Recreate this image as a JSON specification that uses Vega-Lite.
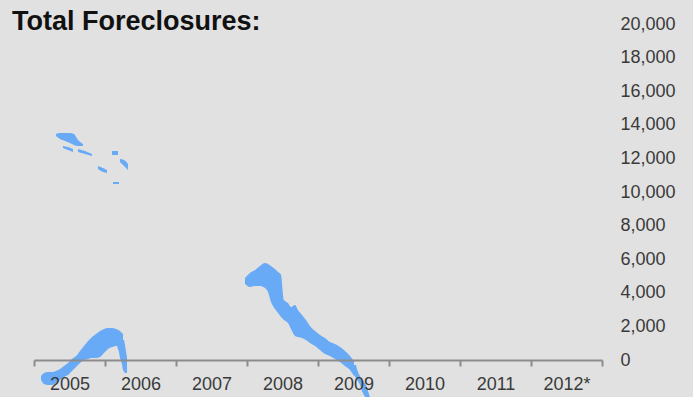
{
  "$schema": "https://vega.github.io/schema/vega-lite/v6.json",
  "width": 568,
  "height": 336,
  "autosize": "none",
  "padding": {"left": 34, "top": 24, "right": 91, "bottom": 37},
  "background": "#e1e1e1",
  "title": {
    "text": "Total Foreclosures:",
    "anchor": "start",
    "frame": "group",
    "orient": "top",
    "offset": 0,
    "dx": -22,
    "dy": 42,
    "baseline": "alphabetic",
    "font": "Liberation Sans",
    "fontSize": 27,
    "fontWeight": "bold",
    "color": "#111111"
  },
  "config": {
    "view": {"stroke": null},
    "axis": {"grid": false}
  },
  "resolve": {"scale": {"x": "independent"}},
  "layer": [
    {
      "data": {"values": [
        {"year": "2005"}, {"year": "2006"}, {"year": "2007"}, {"year": "2008"},
        {"year": "2009"}, {"year": "2010"}, {"year": "2011"}, {"year": "2012*"}
      ]},
      "mark": {"type": "point", "opacity": 0},
      "encoding": {
        "x": {
          "field": "year", "type": "ordinal", "sort": null,
          "scale": {"type": "band", "paddingInner": 0, "paddingOuter": 0},
          "axis": {
            "title": null, "tickBand": "extent", "labelAngle": 0,
            "domainColor": "#8c8c8c", "domainWidth": 2,
            "tickColor": "#8c8c8c", "tickWidth": 2, "tickSize": 6,
            "labelFont": "Liberation Sans", "labelFontSize": 18,
            "labelColor": "#3a3a3a", "labelPadding": 9, "zindex": 1
          }
        },
        "y": {
          "datum": 0, "type": "quantitative", "title": null,
          "scale": {"domain": [0, 20000], "nice": false},
          "axis": {
            "orient": "right", "title": null, "domain": false, "ticks": false,
            "values": [0, 2000, 4000, 6000, 8000, 10000, 12000, 14000, 16000, 18000, 20000],
            "format": ",.0f", "labelFont": "Liberation Sans", "labelFontSize": 18,
            "labelColor": "#3a3a3a", "labelPadding": 18, "zindex": 1
          }
        }
      }
    },
    {
      "data": {"values": [
        {"g": "A", "t": 0.099, "top": -952, "bot": -1190},
        {"g": "A", "t": 0.141, "top": -774, "bot": -1429},
        {"g": "A", "t": 0.197, "top": -714, "bot": -1488},
        {"g": "A", "t": 0.254, "top": -714, "bot": -1488},
        {"g": "A", "t": 0.310, "top": -655, "bot": -1369},
        {"g": "A", "t": 0.366, "top": -536, "bot": -1190},
        {"g": "A", "t": 0.423, "top": -357, "bot": -1012},
        {"g": "A", "t": 0.479, "top": -179, "bot": -893},
        {"g": "A", "t": 0.535, "top": 60, "bot": -655},
        {"g": "A", "t": 0.592, "top": 238, "bot": -417},
        {"g": "A", "t": 0.648, "top": 536, "bot": -179},
        {"g": "A", "t": 0.704, "top": 833, "bot": 0},
        {"g": "A", "t": 0.761, "top": 1131, "bot": 60},
        {"g": "A", "t": 0.817, "top": 1369, "bot": 119},
        {"g": "A", "t": 0.873, "top": 1548, "bot": 119},
        {"g": "A", "t": 0.930, "top": 1726, "bot": 179},
        {"g": "A", "t": 0.986, "top": 1845, "bot": 417},
        {"g": "A", "t": 1.042, "top": 1905, "bot": 655},
        {"g": "A", "t": 1.099, "top": 1905, "bot": 774},
        {"g": "A", "t": 1.155, "top": 1845, "bot": 833},
        {"g": "A", "t": 1.211, "top": 1726, "bot": 893},
        {"g": "A", "t": 1.254, "top": 1548, "bot": 952},
        {"g": "D", "t": 2.972, "top": 4881, "bot": 4524},
        {"g": "D", "t": 3.042, "top": 5179, "bot": 4345},
        {"g": "D", "t": 3.113, "top": 5357, "bot": 4405},
        {"g": "D", "t": 3.183, "top": 5595, "bot": 4405},
        {"g": "D", "t": 3.254, "top": 5774, "bot": 4286},
        {"g": "D", "t": 3.296, "top": 5714, "bot": 4048},
        {"g": "D", "t": 3.338, "top": 5595, "bot": 3452},
        {"g": "D", "t": 3.394, "top": 5417, "bot": 3036},
        {"g": "D", "t": 3.437, "top": 5238, "bot": 2798},
        {"g": "D", "t": 3.479, "top": 5060, "bot": 2560},
        {"g": "D", "t": 3.521, "top": 3571, "bot": 2381},
        {"g": "D", "t": 3.577, "top": 3393, "bot": 2202},
        {"g": "D", "t": 3.620, "top": 3155, "bot": 1845},
        {"g": "D", "t": 3.676, "top": 3274, "bot": 1429},
        {"g": "D", "t": 3.718, "top": 2976, "bot": 1369},
        {"g": "D", "t": 3.775, "top": 2679, "bot": 1310},
        {"g": "D", "t": 3.831, "top": 2381, "bot": 1190},
        {"g": "D", "t": 3.887, "top": 2024, "bot": 1012},
        {"g": "D", "t": 3.958, "top": 1726, "bot": 833},
        {"g": "D", "t": 4.028, "top": 1488, "bot": 595},
        {"g": "D", "t": 4.099, "top": 1310, "bot": 357},
        {"g": "D", "t": 4.169, "top": 1071, "bot": 238},
        {"g": "D", "t": 4.239, "top": 952, "bot": 60},
        {"g": "D", "t": 4.310, "top": 774, "bot": -119},
        {"g": "D", "t": 4.380, "top": 536, "bot": -357},
        {"g": "D", "t": 4.451, "top": 238, "bot": -595},
        {"g": "D", "t": 4.507, "top": -60, "bot": -952},
        {"g": "U1", "t": 0.310, "top": 13452, "bot": 13333},
        {"g": "U1", "t": 0.366, "top": 13512, "bot": 13155},
        {"g": "U1", "t": 0.437, "top": 13512, "bot": 13036},
        {"g": "U1", "t": 0.507, "top": 13512, "bot": 12917},
        {"g": "U1", "t": 0.563, "top": 13452, "bot": 12798},
        {"g": "U1", "t": 0.620, "top": 13095, "bot": 12738},
        {"g": "U1", "t": 0.690, "top": 12857, "bot": 12738},
        {"g": "U2", "t": 0.408, "top": 12738, "bot": 12619},
        {"g": "U2", "t": 0.479, "top": 12679, "bot": 12500},
        {"g": "U2", "t": 0.549, "top": 12560, "bot": 12381},
        {"g": "U3", "t": 0.620, "top": 12560, "bot": 12381},
        {"g": "U3", "t": 0.718, "top": 12440, "bot": 12262},
        {"g": "U3", "t": 0.817, "top": 12262, "bot": 12143},
        {"g": "U4", "t": 1.099, "top": 12440, "bot": 12202},
        {"g": "U4", "t": 1.183, "top": 12440, "bot": 12202},
        {"g": "U5", "t": 1.211, "top": 11964, "bot": 11786},
        {"g": "U5", "t": 1.268, "top": 11905, "bot": 11548},
        {"g": "U5", "t": 1.324, "top": 11667, "bot": 11310},
        {"g": "U6", "t": 0.901, "top": 11548, "bot": 11369},
        {"g": "U6", "t": 0.972, "top": 11429, "bot": 11190},
        {"g": "U6", "t": 1.028, "top": 11310, "bot": 11131},
        {"g": "U7", "t": 1.113, "top": 10595, "bot": 10476},
        {"g": "U7", "t": 1.197, "top": 10595, "bot": 10476}
      ]},
      "mark": {"type": "area", "orient": "vertical", "color": "#68aaf6", "interpolate": "monotone"},
      "encoding": {
        "x": {"field": "t", "type": "quantitative", "scale": {"domain": [0, 8], "nice": false, "zero": false}, "axis": null},
        "y": {
          "field": "top", "type": "quantitative", "title": null,
          "axis": {
            "orient": "right", "title": null, "domain": false, "ticks": false,
            "values": [0, 2000, 4000, 6000, 8000, 10000, 12000, 14000, 16000, 18000, 20000],
            "format": ",.0f", "labelFont": "Liberation Sans", "labelFontSize": 18,
            "labelColor": "#3a3a3a", "labelPadding": 18, "zindex": 1
          }
        },
        "y2": {"field": "bot"},
        "detail": {"field": "g"}
      }
    },
    {
      "data": {"values": [
        {"g": "A2", "v": 1190, "t1": 1.169, "t2": 1.268},
        {"g": "A2", "v": 893, "t1": 1.169, "t2": 1.282},
        {"g": "A2", "v": 476, "t1": 1.197, "t2": 1.296},
        {"g": "A2", "v": 119, "t1": 1.211, "t2": 1.310},
        {"g": "A2", "v": -238, "t1": 1.239, "t2": 1.310},
        {"g": "A2", "v": -595, "t1": 1.254, "t2": 1.310},
        {"g": "A2", "v": -774, "t1": 1.282, "t2": 1.310},
        {"g": "D2", "v": -298, "t1": 4.423, "t2": 4.535},
        {"g": "D2", "v": -714, "t1": 4.479, "t2": 4.563},
        {"g": "D2", "v": -1071, "t1": 4.535, "t2": 4.606},
        {"g": "D2", "v": -1488, "t1": 4.592, "t2": 4.676},
        {"g": "D2", "v": -1845, "t1": 4.620, "t2": 4.704},
        {"g": "D2", "v": -2202, "t1": 4.662, "t2": 4.732}
      ]},
      "mark": {"type": "area", "orient": "horizontal", "color": "#68aaf6", "interpolate": "monotone"},
      "encoding": {
        "y": {
          "field": "v", "type": "quantitative", "title": null,
          "axis": {
            "orient": "right", "title": null, "domain": false, "ticks": false,
            "values": [0, 2000, 4000, 6000, 8000, 10000, 12000, 14000, 16000, 18000, 20000],
            "format": ",.0f", "labelFont": "Liberation Sans", "labelFontSize": 18,
            "labelColor": "#3a3a3a", "labelPadding": 18, "zindex": 1
          }
        },
        "x": {"field": "t1", "type": "quantitative", "scale": {"domain": [0, 8], "nice": false, "zero": false}, "axis": null},
        "x2": {"field": "t2"},
        "detail": {"field": "g"}
      }
    }
  ]
}
